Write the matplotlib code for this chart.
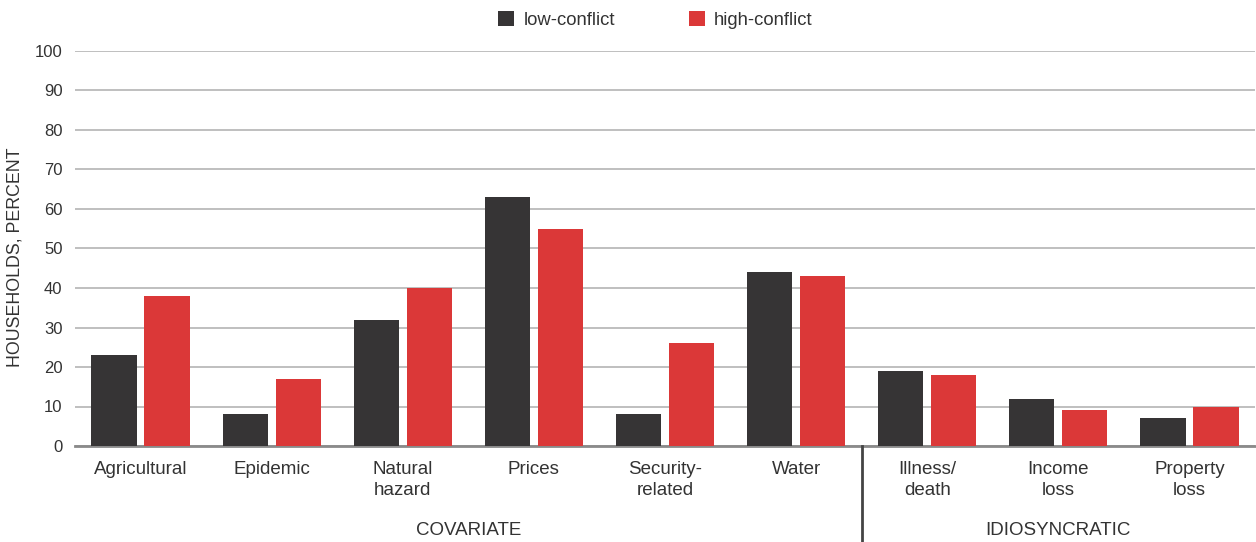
import matplotlib.pyplot as plt
import numpy as np

plt.rcParams['font.family'] = ['Liberation Sans', 'DejaVu Sans']

categories = ["Agricultural", "Epidemic", "Natural\nhazard", "Prices", "Security-\nrelated",
              "Water", "Illness/\ndeath", "Income\nloss", "Property\nloss"]
low_conflict = [23, 8, 32, 63, 8, 44, 19, 12, 7]
high_conflict = [38, 17, 40, 55, 26, 43, 18, 9, 10]
groups = ["COVARIATE", "IDIOSYNCRATIC"]
group_sizes = [6, 3]
y_ticks = list(range(0, 101, 10))

dark = "#363435"
red = "#db3838"
text_col = "#333333"

fig = plt.figure(figsize=(12.56, 5.42), dpi=100)
ax = fig.add_axes([75 / 1256, 96 / 542, 1180 / 1256, 395 / 542])

x = np.arange(len(categories))
w = 0.345
gap = 0.06
ax.bar(x - (w + gap) / 2, low_conflict, w, color=dark, label="low-conflict", zorder=3)
ax.bar(x + (w + gap) / 2, high_conflict, w, color=red, label="high-conflict", zorder=3)

ax.set_xlim(-0.5, len(categories) - 0.5)
ax.set_ylim(0, 100)
ax.set_yticks(y_ticks)
ax.yaxis.grid(True, color="#b4b4b4", linewidth=1.2, zorder=0)
ax.set_axisbelow(True)
for s in ["top", "right", "left"]:
    ax.spines[s].set_visible(False)
ax.spines["bottom"].set_color("#8a8a8a")
ax.spines["bottom"].set_linewidth(2)
ax.tick_params(axis="y", length=0, pad=9, labelsize=12, labelcolor=text_col)
ax.tick_params(axis="x", length=0, pad=10.5, labelsize=13.5, labelcolor=text_col)
ax.set_xticks(x)
ax.set_xticklabels(categories, linespacing=1.35)
ax.set_ylabel("HOUSEHOLDS, PERCENT", fontsize=12.8, color=text_col)
ax.yaxis.set_label_coords(-0.044, 0.478)

# group captions under the category labels, with a divider between groups
start = 0
for name, n in zip(groups, group_sizes):
    mid = start + (n - 1) / 2
    ax.text(mid, -21.5, name, ha="center", va="center", fontsize=13.5, color=text_col,
            clip_on=False)
    start += n
ax.plot([group_sizes[0] - 0.5] * 2, [0, -25], color="#444444", linewidth=2,
        clip_on=False, zorder=4)

ax.legend(loc="center", bbox_to_anchor=(0.492, 1 + 31 / 395), ncol=2, frameon=False,
          fontsize=13.3, handlelength=0.87, handleheight=0.87, columnspacing=4.0,
          handletextpad=0.5, labelcolor=text_col)

fig.savefig("out.png", dpi=100)
